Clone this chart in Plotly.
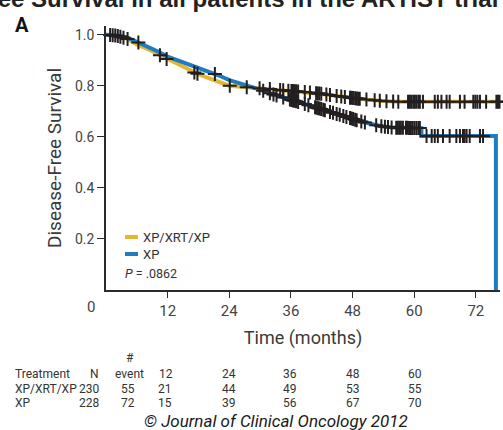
import numpy as np
import plotly.graph_objects as go

# ---------------- data ----------------
series_names = ["XP/XRT/XP", "XP"]
series_colors = ["#E6B62F", "#1F7CC0"]

# Kaplan-Meier curve (time in months, survival probability)
t_xrt = [0, 2, 4, 6, 8, 10, 12, 14, 16, 18, 20, 22, 24, 27, 30, 33, 36, 39, 42, 45, 48, 51, 54, 57, 76.7]
s_xrt = [1.0, 0.996, 0.985, 0.962, 0.945, 0.925, 0.903, 0.882, 0.862, 0.845, 0.830, 0.815, 0.800,
         0.795, 0.790, 0.785, 0.780, 0.775, 0.768, 0.760, 0.752, 0.745, 0.740, 0.737, 0.737]

t_xp = [0, 2, 4, 6, 8, 10, 12, 14, 16, 18, 20, 22, 24, 26, 28, 30, 32, 34, 36, 38, 40, 42, 44, 46,
        48, 50, 52, 54, 56, 61.4, 61.4, 75.9, 75.9]
s_xp = [1.0, 0.997, 0.990, 0.972, 0.955, 0.935, 0.914, 0.900, 0.885, 0.870, 0.855, 0.840, 0.822,
        0.810, 0.800, 0.785, 0.770, 0.757, 0.745, 0.733, 0.720, 0.708, 0.695, 0.683, 0.670, 0.658,
        0.648, 0.640, 0.636, 0.634, 0.603, 0.603, 0.0]

# censoring times
cens_xrt = [0.8, 1.3, 1.8, 2.3, 2.8, 3.4, 4.2, 10.5, 11.8, 17.2, 17.8, 24.1, 27.4, 29.9, 31.9, 33.9,
            34.5, 35.5, 36.1, 36.4, 36.7, 37.0, 37.4, 38.7, 39.7, 40.9, 41.2, 41.5, 41.9, 42.9, 43.6,
            44.9, 45.8, 46.5, 47.5, 47.8, 48.1, 48.5, 48.8, 49.1, 49.4, 50.7, 52.3, 53.3, 54.6, 55.9,
            56.9, 58.8, 59.1, 59.4, 59.8, 60.1, 60.4, 60.8, 61.1, 61.7, 64.0, 64.6, 65.3, 66.3, 66.9,
            68.9, 69.8, 71.5, 71.9, 72.3, 72.8, 74.0, 76.0, 76.3, 76.6]
cens_xp = [6.3, 21.2, 30.6, 31.9, 32.6, 33.2, 34.5, 35.8, 36.1, 36.4, 36.7, 37.0, 37.4, 38.7, 39.4,
           40.7, 41.0, 41.3, 41.6, 41.9, 42.3, 42.6, 43.6, 44.2, 44.9, 45.5, 46.2, 46.8, 47.5, 47.8,
           48.1, 48.5, 48.8, 49.7, 50.4, 52.6, 53.6, 54.3, 54.9, 55.6, 56.5, 56.8, 57.1, 57.4, 57.8,
           58.4, 58.7, 59.0, 59.3, 59.6, 60.0, 60.4, 60.8, 61.1, 62.4, 63.4, 64.0, 64.6, 65.6, 66.9,
           68.2, 68.9, 69.5, 69.8, 70.2, 70.8, 72.8, 73.4]

x_ticks = [12, 24, 36, 48, 60, 72]
y_ticks = [0.2, 0.4, 0.6, 0.8, 1.0]
p_value = ".0862"

# number-at-risk style table
table_header = ["Treatment", "N", "event", "12", "24", "36", "48", "60"]
table_rows = [
    ["XP/XRT/XP", "230", "55", "21", "44", "49", "53", "55"],
    ["XP", "228", "72", "15", "39", "56", "67", "70"],
]

# ---------------- figure ----------------
W, H = 503, 430
L, R, T, B = 106, 3, 26, 140
PW, PH = W - L - R, H - T - B
FONT = "Roboto, Liberation Sans, Arial, sans-serif"


def px(x):
    return (x - L) / PW


def py(y):
    return (H - B - y) / PH


fig = go.Figure()

curves = [(t_xrt, s_xrt), (t_xp, s_xp)]
for (t, s), name, col in zip(curves, series_names, series_colors):
    fig.add_trace(go.Scatter(x=t, y=s, mode="lines", name=name,
                             line=dict(color=col, width=4), showlegend=False))

# censor marks, placed on each curve
for (t, s), cens in zip(curves, [cens_xrt, cens_xp]):
    tt = np.array(t, dtype=float)
    ss = np.array(s, dtype=float)
    if tt[-1] == tt[-2]:
        tt, ss = tt[:-1], ss[:-1]
    yv = [float(np.interp(c, tt, ss)) for c in cens]
    fig.add_trace(go.Scatter(x=cens, y=yv, mode="markers", showlegend=False, cliponaxis=False,
                             marker=dict(symbol="cross-thin", size=10,
                                         line=dict(color="#231f20", width=2))))

axis_col = "#2b2b2b"
fig.update_xaxes(range=[0, 76.7], tickvals=x_ticks, ticks="outside", ticklen=6, tickwidth=1.4,
                 tickcolor=axis_col, showline=True, linecolor=axis_col, linewidth=1.6,
                 showgrid=False, zeroline=False,
                 tickfont=dict(family=FONT, size=15, color="#444"),
                 title=dict(text="Time (months)", font=dict(family=FONT, size=18, color="#3a3a3a"),
                            standoff=13))
fig.update_yaxes(range=[0, 1.034], tickvals=y_ticks, ticktext=[f"{v:.1f}" for v in y_ticks],
                 ticks="outside", ticklen=7, tickwidth=1.4, tickcolor=axis_col,
                 showline=True, linecolor=axis_col, linewidth=1.6, showgrid=False, zeroline=False,
                 tickfont=dict(family=FONT, size=14, color="#444"),
                 title=dict(text="Disease-Free Survival", font=dict(family=FONT, size=19, color="#3a3a3a"),
                            standoff=8))

ann = []


def add_text(text, x, y, size, anchor="center", color="#333", family=FONT, **kw):
    ann.append(dict(text=text, x=px(x), y=py(y), xref="paper", yref="paper", showarrow=False,
                    xanchor=anchor, yanchor="middle", font=dict(family=family, size=size, color=color), **kw))


# "0" tick label placed left of axis as in the original
add_text("0", 91, 307, 15, color="#444")

# panel letter and cropped title
add_text("<b>A</b>", 22, 25, 20, color="#111")
add_text("<b>Disease-Free Survival in all patients in the ARTIST trial</b>", 500, -2, 24,
         anchor="right", color="#222", family="Liberation Sans, Arial, sans-serif")

# legend
shapes = []
for i, (name, col) in enumerate(zip(series_names, series_colors)):
    yy = 237 + i * 17
    shapes.append(dict(type="line", xref="paper", yref="paper", x0=px(125), x1=px(138),
                       y0=py(yy), y1=py(yy), line=dict(color=col, width=4)))
    add_text(name, 141, yy, 13, anchor="left", color="#333")
add_text(f"<i>P</i> = {p_value}", 123, 273, 12.5, anchor="left", color="#333")

# table
col_x = [13, 94, 129.5, 166, 229, 290, 353, 415]
add_text("#", 130, 358, 12, color="#333")
for j, txt in enumerate(table_header):
    add_text(txt, col_x[j], 374, 12, anchor="left" if j == 0 else "center")
row_x = [13, 89, 128, 165, 229, 290, 353, 415]
for i, row in enumerate(table_rows):
    for j, txt in enumerate(row):
        add_text(txt, row_x[j], 388.5 + i * 14.5, 12, anchor="left" if j == 0 else "center")

add_text("<i>© Journal of Clinical Oncology 2012</i>", 276, 421, 17, color="#1a1a1a")

fig.update_layout(width=W, height=H, margin=dict(l=L, r=R, t=T, b=B, autoexpand=False),
                  plot_bgcolor="white", paper_bgcolor="white", showlegend=False,
                  annotations=ann, shapes=shapes)

fig.write_html("out.html", config={"displayModeBar": False},
               post_script="document.body.style.margin='0';document.body.style.overflow='hidden';")
